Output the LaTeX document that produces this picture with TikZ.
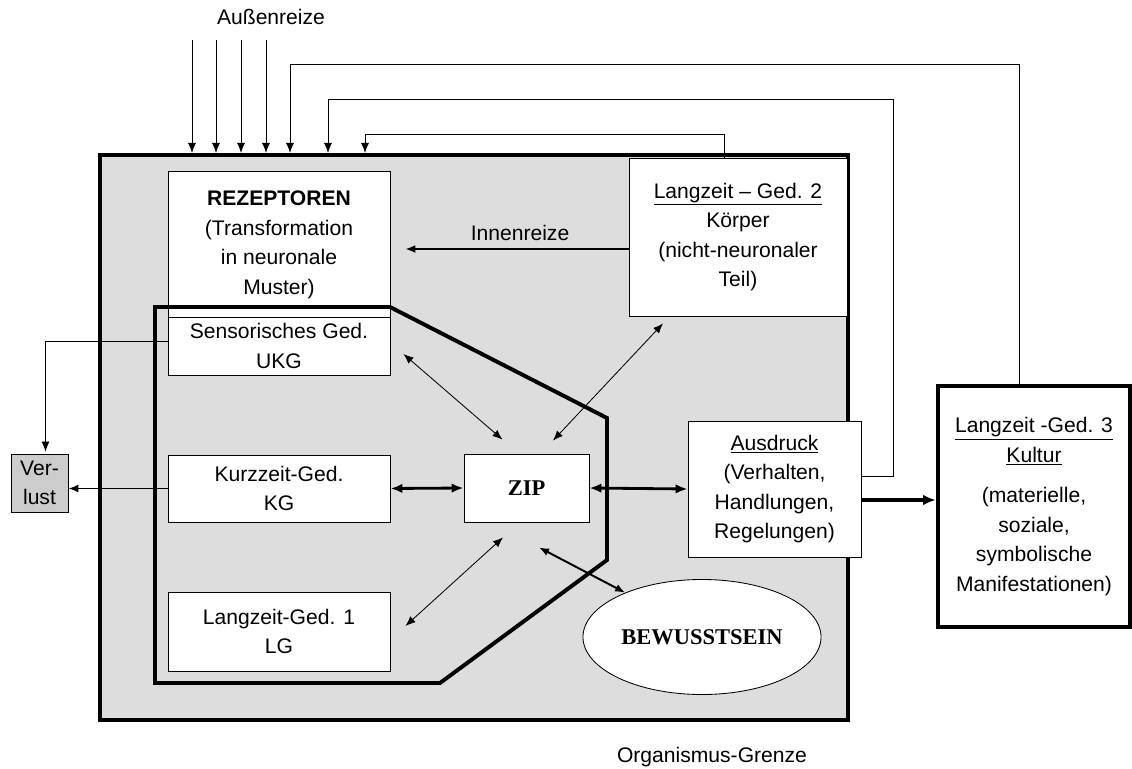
\documentclass[tikz,border=0pt]{standalone}
\usepackage{fontspec}
\setmainfont{Liberation Sans}
\newfontfamily\timesfont{Liberation Serif}
\usetikzlibrary{arrows.meta,calc,shapes.geometric}
\definecolor{innen}{RGB}{221,221,221}
\definecolor{verlustgrau}{RGB}{204,204,204}
\tikzset{
	txt/.style={font=\fontsize{15}{21}\selectfont, align=center},
	box/.style={txt, draw, fill=white, line width=0.6pt, inner sep=2pt},
	fett/.style={font=\fontsize{16}{21}\selectfont\timesfont\bfseries},
	rand/.style={line width=2.8pt},
	pfeil/.style={-{Latex[length=2.5mm,width=2mm]}, line width=0.6pt},
	doppel/.style={{Latex[length=2.5mm,width=2mm]}-{Latex[length=2.5mm,width=2mm]}, line width=0.6pt},
	dick/.style={{Latex[length=3mm,width=2.4mm]}-{Latex[length=3mm,width=2.4mm]}, line width=2pt},
	dickpfeil/.style={-{Latex[length=3.2mm,width=2.6mm]}, line width=2.8pt}
}
\begin{document}
\begin{tikzpicture}[x=0.025cm, y=-0.025cm]
	\useasboundingbox (0,0) rectangle (1132,769);

	\node[draw, rand, fill=innen, minimum width=18.7cm, minimum height=14.125cm] (org) at (474,437.5) {};

	\node[box, minimum width=5.55cm, minimum height=3.675cm] (rez) at (279,245) {\textbf{REZEPTOREN}\\(Transformation\\in neuronale\\Muster)};
	\node[box, minimum width=5.55cm, minimum height=1.45cm] (sens) at (279,346) {Sensorisches Ged.\\UKG};
	\node[box, minimum width=5.55cm, minimum height=1.675cm] (kurz) at (279,488.5) {Kurzzeit-Ged.\\KG};
	\node[box, minimum width=5.55cm, minimum height=1.975cm] (lang1) at (279,631.5) {Langzeit-Ged. 1\\LG};
	\node[box, fett, minimum width=3.125cm, minimum height=1.7cm] (zip) at (526.5,488) {ZIP};
	\node[box, minimum width=5.45cm, minimum height=3.95cm] (lang2) at (738,237) {\underline{Langzeit – Ged. 2}\\Körper\\(nicht-neuronaler\\Teil)};
	\node[box, minimum width=4.325cm, minimum height=3.4cm] (aus) at (774.5,489) {\underline{Ausdruck}\\(Verhalten,\\Handlungen,\\Regelungen)};
	\node[box, rand, minimum width=4.8cm, minimum height=6.025cm] (kultur) at (1034,506.5) {\underline{Langzeit -Ged. 3}\\\underline{Kultur}\\[8pt](materielle,\\soziale,\\symbolische\\Manifestationen)};
	\node[box, fill=verlustgrau, minimum width=1.425cm, minimum height=1.45cm, inner sep=0pt] (verlust) at (39.5,483) {Ver-\\lust};
	\node[box, fett, ellipse, minimum width=5.95cm, minimum height=2.875cm] (bew) at (702,637) {BEWUSSTSEIN};

	\node[txt] (aussen) at (271,17) {Außenreize};
	\node[txt] (innenreize) at (520,233) {Innenreize};
	\node[txt] (grenze) at (712,757) {Organismus-Grenze};

	% Grenze des Arbeitsgedaechtnisses
	\draw[rand] (155,307) -- (390,307) -- (607,418) -- (607,560) -- (440,683) -- (155,683) -- cycle;

	\foreach \x [count=\i] in {192,216,241,266} {
		\coordinate (reiz\i) at (\x,40);
		\draw[pfeil] (reiz\i) -- (reiz\i |- org.north);
	}

	\coordinate (rueck1) at (290,64);
	\coordinate (rueck2) at (328,99);
	\coordinate (rueck3) at (365,134);
	\draw[pfeil] ($(kultur.north)+(-15,0)$) |- (rueck1) -- (rueck1 |- org.north);
	\draw[pfeil] ($(aus.east)+(0,-13)$) -- ++(32,0) |- (rueck2) -- (rueck2 |- org.north);
	\draw[pfeil] ($(lang2.north)+(-14,0)$) |- (rueck3) -- (rueck3 |- org.north);

	\draw[pfeil, line width=1.2pt] ($(lang2.west)+(0,12)$) -- ($(rez.east)+(15,4)$);
	\draw[pfeil] ($(sens.west)+(0,-5)$) -| ($(verlust.north)+(6,-2)$);
	\draw[pfeil, line width=1.2pt] (kurz.west) -- (kurz.west -| verlust.east);

	\draw[dick] (kurz.east) -- (zip.west);
	\draw[dick] (zip.east) -- (aus.west);
	\draw[dickpfeil] ($(aus.east)+(0,11)$) -- ($(kultur.west)+(0,-6.5)$);

	\draw[doppel] ($(sens.east)+(13,8)$) -- ($(zip.north)+(-24,-14)$);
	\draw[doppel] ($(lang2.south)+(-75,7)$) -- ($(zip.north)+(26.5,-13)$);
	\draw[doppel] ($(lang1.east)+(15,-5.5)$) -- ($(zip.south)+(-23.5,15)$);
	\draw[doppel, line width=1.4pt] ($(zip.south)+(12.5,25)$) -- (bew.150);
\end{tikzpicture}
\end{document}
